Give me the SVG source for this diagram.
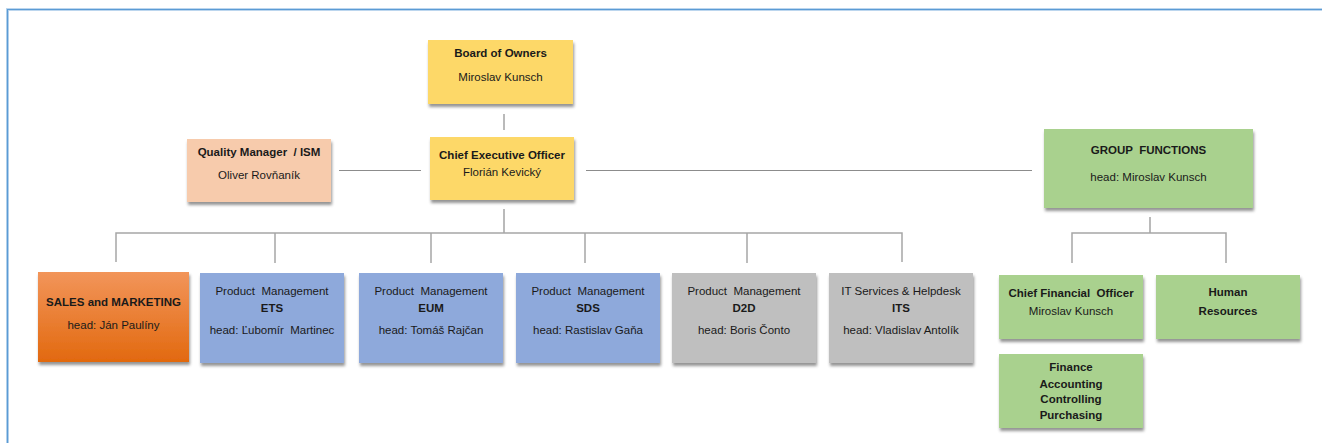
<svg xmlns="http://www.w3.org/2000/svg" width="1322" height="443" viewBox="0 0 1322 443">
<defs>
<filter id="sh" x="-10%" y="-10%" width="125%" height="135%">
<feDropShadow dx="1" dy="3" stdDeviation="1.8" flood-color="#000" flood-opacity="0.42"/>
</filter>
<linearGradient id="orange" x1="0" y1="0" x2="0" y2="1">
<stop offset="0" stop-color="#F2955A"/>
<stop offset="1" stop-color="#E2690F"/>
</linearGradient>
</defs>
<style>
.t{font-family:"Liberation Sans",Arial,sans-serif;font-size:11.5px;fill:#1a1a1a;text-anchor:middle;white-space:pre}
.b{font-weight:bold}
.box{filter:url(#sh)}
.yel{fill:#FDD867}
.pch{fill:#F7CBAC}
.grn{fill:#A9D18E}
.blu{fill:#8EA9DB}
.gry{fill:#BFBFBF}
.org{fill:url(#orange)}
.ln{stroke:#8c8c8c;stroke-width:1.2;fill:none}
.bus{stroke:#a6a6a6;stroke-width:1.5;fill:none}
</style>
<rect width="1322" height="443" fill="#ffffff"/>
<path d="M7.5,443 V9.5 H1322" fill="none" stroke="#bcd6ee" stroke-width="3"/>
<path d="M7.5,443 V9.5 H1322" fill="none" stroke="#5b9bd5" stroke-width="1.2"/>

<g id="connectors">
<line class="ln" x1="504" y1="114" x2="504" y2="130"/>
<line class="ln" x1="339" y1="170.5" x2="421" y2="170.5"/>
<line class="ln" x1="586" y1="170.5" x2="1032" y2="170.5"/>
<line class="ln" x1="504" y1="209" x2="504" y2="233"/>
<path class="bus" d="M116,262 V233 H902 V262 M275,233 V263 M431,233 V263 M585,233 V263 M747,233 V263"/>
<line class="ln" x1="1150" y1="217" x2="1150" y2="233"/>
<path class="bus" d="M1072,263 V233 H1226 V263"/>
</g>

<g id="board">
<rect class="box yel" x="428" y="40" width="145" height="64"/>
<text class="t b" x="500.5" y="57">Board of Owners</text>
<text class="t" x="500.5" y="81">Miroslav Kunsch</text>
</g>

<g id="ceo">
<rect class="box yel" x="430" y="137" width="144" height="63"/>
<text class="t b" x="502" y="159">Chief Executive Officer</text>
<text class="t" x="502" y="176">Florián Kevický</text>
</g>

<g id="quality">
<rect class="box pch" x="187" y="139" width="144" height="63"/>
<text class="t b" x="259" y="156">Quality Manager  / ISM</text>
<text class="t" x="259" y="179">Oliver Rovňaník</text>
</g>

<g id="group-functions">
<rect class="box grn" x="1044" y="129" width="209" height="79"/>
<text class="t b" x="1148.5" y="154">GROUP  FUNCTIONS</text>
<text class="t" x="1148.5" y="181">head: Miroslav Kunsch</text>
</g>

<g id="sales">
<rect class="box org" x="38" y="272" width="151" height="90"/>
<text class="t b" x="113.5" y="306">SALES and MARKETING</text>
<text class="t" x="113.5" y="329">head: Ján Paulíny</text>
</g>

<g id="pm-ets">
<rect class="box blu" x="200" y="273" width="144" height="90"/>
<text class="t" x="272" y="295">Product  Management</text>
<text class="t b" x="272" y="312">ETS</text>
<text class="t" x="272" y="334">head: Ľubomír  Martinec</text>
</g>

<g id="pm-eum">
<rect class="box blu" x="359" y="273" width="144" height="90"/>
<text class="t" x="431" y="295">Product  Management</text>
<text class="t b" x="431" y="312">EUM</text>
<text class="t" x="431" y="334">head: Tomáš Rajčan</text>
</g>

<g id="pm-sds">
<rect class="box blu" x="516" y="273" width="144" height="90"/>
<text class="t" x="588" y="295">Product  Management</text>
<text class="t b" x="588" y="312">SDS</text>
<text class="t" x="588" y="334">head: Rastislav Gaňa</text>
</g>

<g id="pm-d2d">
<rect class="box gry" x="672" y="273" width="144" height="90"/>
<text class="t" x="744" y="295">Product  Management</text>
<text class="t b" x="744" y="312">D2D</text>
<text class="t" x="744" y="334">head: Boris Čonto</text>
</g>

<g id="its">
<rect class="box gry" x="829" y="273" width="144" height="90"/>
<text class="t" x="901" y="295">IT Services &amp; Helpdesk</text>
<text class="t b" x="901" y="312">ITS</text>
<text class="t" x="901" y="334">head: Vladislav Antolík</text>
</g>

<g id="cfo">
<rect class="box grn" x="999" y="275" width="144" height="64"/>
<text class="t b" x="1071" y="297">Chief Financial  Officer</text>
<text class="t" x="1071" y="315">Miroslav Kunsch</text>
</g>

<g id="hr">
<rect class="box grn" x="1156" y="275" width="144" height="64"/>
<text class="t b" x="1228" y="296">Human</text>
<text class="t b" x="1228" y="315">Resources</text>
</g>

<g id="finance">
<rect class="box grn" x="999" y="354" width="144" height="74"/>
<text class="t b" x="1071" y="371">Finance</text>
<text class="t b" x="1071" y="388">Accounting</text>
<text class="t b" x="1071" y="403">Controlling</text>
<text class="t b" x="1071" y="419">Purchasing</text>
</g>
</svg>
